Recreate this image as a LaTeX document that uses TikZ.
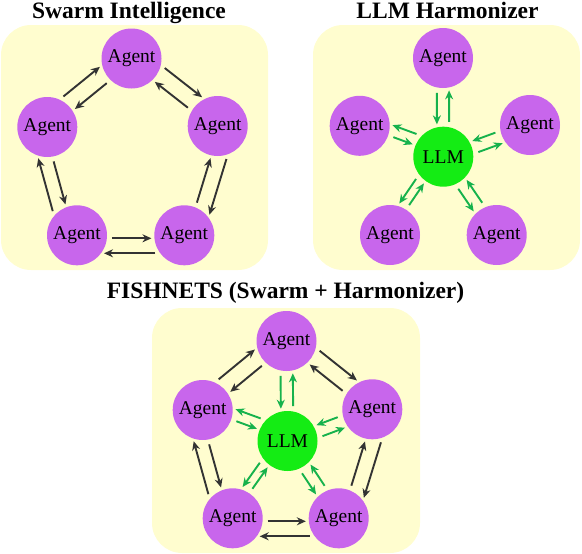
\documentclass[tikz,border=0pt]{standalone}
\usepackage{fontspec}
\setmainfont{Liberation Serif}
\usetikzlibrary{arrows.meta,calc}
\definecolor{panelyellow}{RGB}{255,253,207}
\definecolor{agentpurple}{RGB}{200,102,236}
\definecolor{llmgreen}{RGB}{20,236,20}
\definecolor{arrowgray}{RGB}{51,51,51}
\definecolor{arrowgreen}{RGB}{22,178,76}
\begin{document}
\begin{tikzpicture}[x=1pt,y=-1pt]
			\tikzstyle{panel} = [fill=panelyellow, rounded corners=30pt]
			\tikzstyle{agent} = [shape=circle, fill=agentpurple, minimum size=60pt, inner sep=0, font=\fontsize{19.5}{22}\selectfont]
			\tikzstyle{llm} = [agent, fill=llmgreen]
			\tikzstyle{title} = [anchor=base, font=\fontsize{23.5}{28}\selectfont\bfseries]
			\tikzstyle{grayarrow} = [-{Stealth[length=9pt,width=8pt]}, line width=1.9pt, draw=arrowgray]
			\tikzstyle{greenarrow} = [-{Stealth[length=9pt,width=8pt]}, line width=1.9pt, draw=arrowgreen]
			\useasboundingbox (0,0) rectangle (582,554);
			% panels
			\fill [panel] (1,25) rectangle (268,270);
			\fill [panel] (313,25) rectangle (580,270);
			\fill [panel] (152,308) rectangle (420,553);
			\node [title] (t1) at (129,18.5) {Swarm Intelligence};
			\node [title] (t2) at (447.5,18.5) {LLM Harmonizer};
			\node [title] (t3) at (285.5,298.5) {FISHNETS (Swarm + Harmonizer)};
			% swarm
			\node [agent] (sT) at (131.5,58.5) {Agent};
			\node [agent] (sR) at (217.7,126) {Agent};
			\node [agent] (sBR) at (184.3,235.3) {Agent};
			\node [agent] (sBL) at (77,235.3) {Agent};
			\node [agent] (sL) at (47.3,127) {Agent};
			% harmonizer
			\node [llm] (hLLM) at (443.3,156.7) {LLM};
			\node [agent] (hT) at (443,58) {Agent};
			\node [agent] (hR) at (530,125) {Agent};
			\node [agent] (hBR) at (496.7,235) {Agent};
			\node [agent] (hBL) at (390,235) {Agent};
			\node [agent] (hL) at (359.7,125.8) {Agent};
			% fishnets
			\node [llm] (fLLM) at (287.5,441) {LLM};
			\node [agent] (fT) at (286.5,341) {Agent};
			\node [agent] (fR) at (372.3,409.3) {Agent};
			\node [agent] (fBR) at (338.7,518.3) {Agent};
			\node [agent] (fBL) at (232.7,518.3) {Agent};
			\node [agent] (fL) at (202.7,410) {Agent};
			% agent to agent
			\foreach \a/\b/\p/\q in {sT/sR/-13/-4, sR/sBR/-18/2.5, sBR/sBL/-18/3, sBL/sL/-17/3, sL/sT/-13.5/-3.5,
				fT/fR/-13/-4, fR/fBR/-18/2.5, fBR/fBL/-18/3, fBL/fL/-17/3, fL/fT/-13.5/-3.5}
			{
				\pgfmathsetmacro\ps{sqrt(900-(\p)^2)+5}
				\pgfmathsetmacro\pe{sqrt(900-(\p)^2)+3}
				\pgfmathsetmacro\qs{sqrt(900-(\q)^2)+5}
				\pgfmathsetmacro\qe{sqrt(900-(\q)^2)+3}
				\draw [grayarrow, shorten <=\ps pt, shorten >=\pe pt] ($(\a)!\p pt!-90:(\b)$) -- ($(\b)!\p pt!90:(\a)$);
				\draw [grayarrow, shorten <=\qs pt, shorten >=\qe pt] ($(\b)!\q pt!-90:(\a)$) -- ($(\a)!\q pt!90:(\b)$);
			}
			% agent to llm
			\foreach \a/\b/\p/\q in {hT/hLLM/6.3/6, hR/hLLM/4.7/7.7, hBR/hLLM/6.2/5.7, hBL/hLLM/-1/10, hL/hLLM/-1/12,
				fT/fLLM/6.3/6, fR/fLLM/4.7/7.7, fBR/fLLM/6.2/5.7, fBL/fLLM/-1/10, fL/fLLM/-1/12}
			{
				\pgfmathsetmacro\ps{sqrt(900-(\p)^2)+5.5}
				\pgfmathsetmacro\pe{sqrt(900-(\p)^2)+3}
				\pgfmathsetmacro\qs{sqrt(900-(\q)^2)+5.5}
				\pgfmathsetmacro\qe{sqrt(900-(\q)^2)+3}
				\draw [greenarrow, shorten <=\ps pt, shorten >=\pe pt] ($(\a)!\p pt!-90:(\b)$) -- ($(\b)!\p pt!90:(\a)$);
				\draw [greenarrow, shorten <=\qs pt, shorten >=\qe pt] ($(\b)!\q pt!-90:(\a)$) -- ($(\a)!\q pt!90:(\b)$);
			}
\end{tikzpicture}
\end{document}
